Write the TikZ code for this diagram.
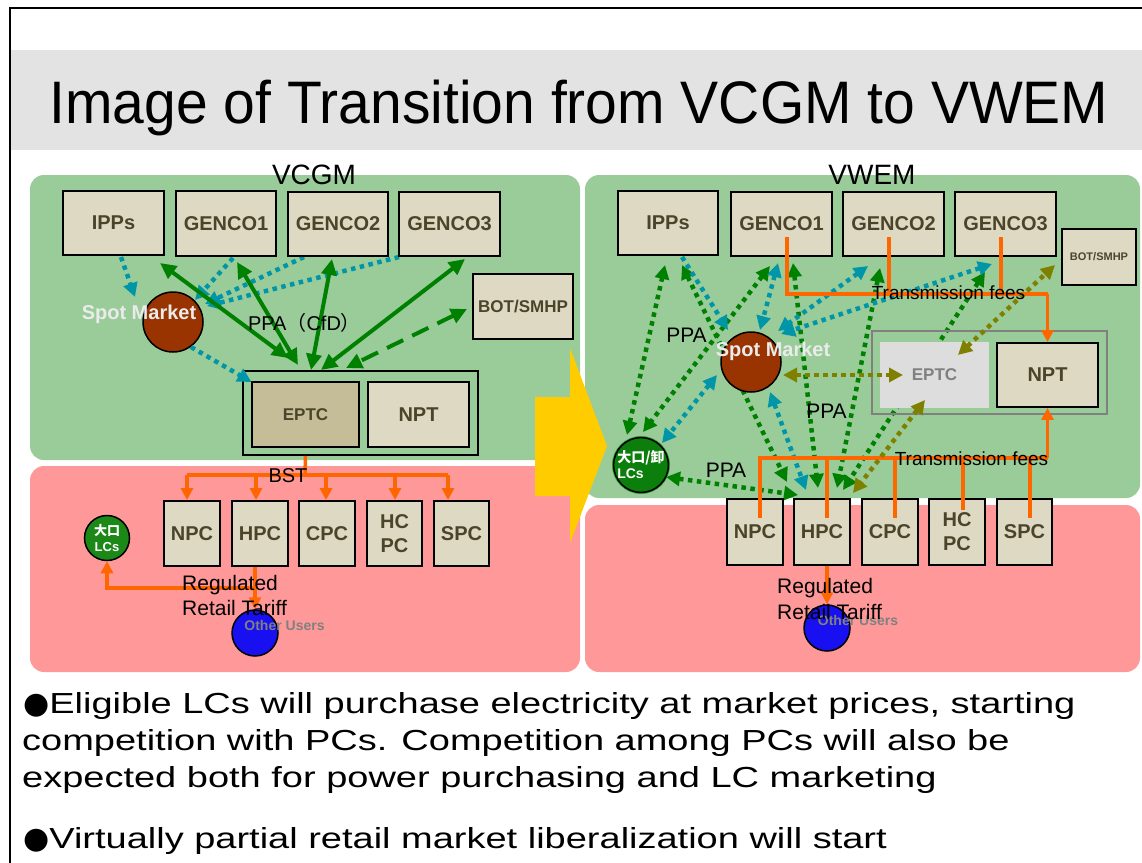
\documentclass[tikz,border=0pt]{standalone}
\usepackage{fontspec}
\setmainfont{Liberation Sans}
\newfontfamily\cjk{Noto Sans CJK JP}
\newfontfamily\dejavu{DejaVu Sans}
\usetikzlibrary{arrows.meta,calc}
\pgfdeclarelayer{bg}
\pgfdeclarelayer{conn}
\pgfdeclarelayer{front}
\pgfsetlayers{bg,conn,main,front}
\definecolor{panelgreen}{RGB}{153,204,153}
\definecolor{panelpink}{RGB}{255,153,153}
\definecolor{boxfill}{RGB}{221,217,195}
\definecolor{boxdark}{RGB}{196,189,151}
\definecolor{boxtext}{RGB}{74,69,42}
\definecolor{titlegray}{RGB}{227,227,227}
\definecolor{spotred}{RGB}{153,51,0}
\definecolor{pptgreen}{RGB}{0,128,0}
\definecolor{pptteal}{RGB}{0,150,168}
\definecolor{pptolive}{RGB}{128,128,0}
\definecolor{pptorange}{RGB}{255,102,0}
\definecolor{pptyellow}{RGB}{255,204,0}
\definecolor{userblue}{RGB}{24,16,240}
\definecolor{lcgreen}{RGB}{28,136,24}
\definecolor{lcdark}{RGB}{12,126,12}
\definecolor{lcring}{RGB}{52,158,52}
\definecolor{eptcgray}{RGB}{221,221,221}
\definecolor{midgray}{RGB}{128,128,128}
\newcommand\fsz[1]{\fontsize{#1}{#1}\selectfont}
\newcommand\blt{{\dejavu\fontsize{30}{30}\selectfont ●}}
\tikzset{
  box/.style={draw=black, line width=1.8pt, fill=boxfill, text=boxtext, font=\bfseries\fsz{20}, inner sep=0pt},
  gsolid/.style={draw=pptgreen, line width=4pt, {Triangle[length=16pt,width=15pt]}-{Triangle[length=16pt,width=15pt]}},
  gdash/.style={draw=pptgreen, line width=4pt, dash pattern=on 18pt off 10pt, {Triangle[length=16pt,width=15pt]}-{Triangle[length=16pt,width=15pt]}},
  dots/.style={line width=4.5pt, dash pattern=on 4.5pt off 4.5pt},
  dtip/.style={-{Triangle[length=14pt,width=14pt]}},
  ddtip/.style={{Triangle[length=14pt,width=14pt]}-{Triangle[length=14pt,width=14pt]}},
  oline/.style={draw=pptorange, line width=3.5pt},
  otip/.style={-{Triangle[length=12pt,width=12pt]}},
  lbl/.style={inner sep=0pt, text=black},
}
\begin{document}
\begin{tikzpicture}[x=1pt,y=-1pt]
\useasboundingbox (0,0) rectangle (1142,862);
\begin{pgfonlayer}{bg}
\fill[white] (0,0) rectangle (1142,862);
\draw[line width=2pt] (10,8) rectangle (1170,890);
\fill[titlegray] (11,50) rectangle (1142,150);
\fill[panelgreen, rounded corners=14pt] (30,175) rectangle (580,460);
\fill[panelpink, rounded corners=14pt] (30,466) rectangle (580,672);
\fill[panelgreen, rounded corners=14pt] (585,175) rectangle (1140,498);
\fill[panelpink, rounded corners=14pt] (585,505) rectangle (1140,672);
\end{pgfonlayer}
\node[anchor=base, inner sep=0pt] (title) at (579,123) {\scalebox{0.95}[1]{\fsz{60}Image of Transition from VCGM to VWEM}};

\node[lbl, anchor=base, font=\fsz{28}] (vcgm) at (314,184) {VCGM};
\node[lbl, anchor=base, font=\fsz{28}] (vwem) at (872,184) {VWEM};

% ===== LEFT (VCGM) =====
\node[box, minimum width=101pt, minimum height=64pt] (IPPsL) at (113.5,223) {IPPs};
\node[box, minimum width=100pt, minimum height=65pt] (GENCO1L) at (226,223.5) {GENCO1};
\node[box, minimum width=100pt, minimum height=64pt] (GENCO2L) at (338,224) {GENCO2};
\node[box, minimum width=101pt, minimum height=64pt] (GENCO3L) at (449.5,224) {GENCO3};
\node[box, minimum width=100pt, minimum height=65pt, font=\bfseries\fsz{17}] (BOTL) at (523,306.5) {BOT/SMHP};
\node[draw=black, line width=2pt, minimum width=235pt, minimum height=84pt, inner sep=0pt] (EPTCouterL) at (360.5,413) {};
\node[box, fill=boxdark, minimum width=107pt, minimum height=65pt, font=\bfseries\fsz{17}] (EPTCL) at (305.5,414.5) {EPTC};
\node[box, minimum width=101pt, minimum height=65pt] (NPTL) at (418.5,414.5) {NPT};
\node[circle, draw=black, line width=1.5pt, fill=spotred, minimum size=60pt, inner sep=0pt] (SpotL) at (173,322) {};
\node[lbl, anchor=base, text=white!92!black, font=\bfseries\fsz{20}] (spotlblL) at (139,319) {Spot Market};
\node[lbl, anchor=base, font=\fsz{20}] (ppacfd) at (304.5,330) {PPA{\cjk （}CfD{\cjk ）}};

\begin{pgfonlayer}{conn}
\draw[dots, draw=pptteal, dtip] ($(IPPsL)+(7.5,34)$) -- ($(SpotL)+(-38,-25)$);
\draw[dots, draw=pptteal, dtip] ($(GENCO1L)+(7,34.5)$) -- ($(SpotL)+(22,-22)$);
\draw[dots, draw=pptteal, dtip] ($(GENCO2L)+(-34,33)$) -- ($(SpotL)+(32,-18)$);
\draw[dots, draw=pptteal, dtip] ($(GENCO3L)+(-50.5,33)$) -- ($(SpotL)+(34,-16)$);
\draw[gsolid] ($(IPPsL)+(46.5,40)$) -- ($(EPTCL)+(-17.5,-56.5)$);
\draw[gsolid] ($(GENCO1L)+(11,38.5)$) -- ($(EPTCL)+(-7.5,-49.5)$);
\draw[gsolid] ($(GENCO2L)+(-6,35)$) -- ($(EPTCL)+(5.5,-44.5)$);
\draw[gsolid] ($(GENCO3L)+(15.5,35)$) -- ($(EPTCL)+(15.5,-44.5)$);
\draw[gdash] ($(BOTL)+(-56,2.5)$) -- ($(EPTCL)+(40.5,-46.5)$);
\end{pgfonlayer}
\begin{pgfonlayer}{front}
\draw[dots, draw=pptteal, dtip] ($(SpotL)+(18,25)$) -- ($(EPTCL)+(-54,-32.5)$);
\end{pgfonlayer}

% PCs left
\node[box, minimum width=56pt, minimum height=65pt] (NPCL) at (192,533.5) {NPC};
\node[box, minimum width=56pt, minimum height=65pt] (HPCL) at (260,533.5) {HPC};
\node[box, minimum width=56pt, minimum height=65pt] (CPCL) at (327,533.5) {CPC};
\node[box, minimum width=55pt, minimum height=65pt, align=center, font=\bfseries\fontsize{20}{24}\selectfont] (HCPCL) at (394.5,533.5) {HC\\PC};
\node[box, minimum width=55pt, minimum height=65pt] (SPCL) at (461.5,533.5) {SPC};

\node[circle, draw=black, line width=1.5pt, fill=lcgreen, minimum size=45pt, inner sep=0pt, text=white, align=center, font=\bfseries\fsz{13}] (LCL) at (107,538) {{\cjk\bfseries 大口}\\[3pt]LCs};
\node[circle, draw=black, line width=1.5pt, fill=userblue, minimum size=46pt, inner sep=0pt] (OtherL) at (255,633) {};

% BST
\coordinate (bstL) at (305,475);
\draw[oline] (EPTCL.south |- EPTCouterL.south) -- (bstL);
\coordinate (dNPC) at ($(NPCL.north)+(-5,0)$);
\coordinate (dHPC) at ($(HPCL.north)+(-4,0)$);
\coordinate (dCPC) at ($(CPCL.north)+(-1,0)$);
\coordinate (dHCPC) at ($(HCPCL.north)+(0.5,0)$);
\coordinate (dSPC) at ($(SPCL.north)+(-13.5,0)$);
\draw[oline] (dNPC |- bstL) -- (dSPC |- bstL);
\foreach \d in {dNPC,dHPC,dCPC,dHCPC,dSPC}{
  \draw[oline, otip] (\d |- bstL) -- (\d);
}
\node[lbl, anchor=base, font=\fsz{20}] (bstlbl) at (288,482) {BST};

% regulated tariff left
\coordinate (tarL) at (255,588);
\draw[oline, otip] (HPCL.south -| OtherL.north) -- (OtherL.north);
\draw[oline, otip] (tarL) -| (LCL.south);
\node[lbl, anchor=base west, font=\fsz{21}] (regL1) at (182,590) {Regulated};
\node[lbl, anchor=base west, font=\fsz{21}] (regL2) at (182,615) {Retail Tariff};
\node[lbl, anchor=base, text=midgray, font=\bfseries\fsz{14}] (othL) at (284.5,630) {Other Users};

% ===== RIGHT (VWEM) =====
\node[box, minimum width=100pt, minimum height=64pt] (IPPsR) at (668,223) {IPPs};
\node[box, minimum width=101pt, minimum height=64pt] (GENCO1R) at (781.5,224) {GENCO1};
\node[box, minimum width=101pt, minimum height=64pt] (GENCO2R) at (893.5,224) {GENCO2};
\node[box, minimum width=101pt, minimum height=64pt] (GENCO3R) at (1005.5,224) {GENCO3};
\node[box, minimum width=74pt, minimum height=56pt, font=\bfseries\fsz{11}] (BOTR) at (1099,257) {BOT/SMHP};
\node[box, minimum width=101pt, minimum height=64pt] (NPTR) at (1047.5,375) {NPT};

\node[box, minimum width=55.5pt, minimum height=66pt] (NPCR) at (755,532) {NPC};
\node[box, minimum width=56pt, minimum height=66pt] (HPCR) at (822,532) {HPC};
\node[box, minimum width=56pt, minimum height=66pt] (CPCR) at (890,532) {CPC};
\node[box, minimum width=55.5pt, minimum height=66pt, align=center, font=\bfseries\fontsize{20}{24}\selectfont] (HCPCR) at (957,532) {HC\\PC};
\node[box, minimum width=55pt, minimum height=66pt] (SPCR) at (1024.5,532) {SPC};

\node[circle, draw=black, line width=1.5pt, fill=spotred, minimum size=60pt, inner sep=0pt] (SpotR) at (751,362) {};
\node[draw=midgray, line width=2pt, minimum width=235pt, minimum height=83pt, inner sep=0pt] (EPTCouterR) at (989.5,372.5) {};
\node[fill=eptcgray, minimum width=109pt, minimum height=66pt, inner sep=0pt, text=midgray, font=\bfseries\fsz{17}] (EPTCR) at (934.5,375) {EPTC};
\node[circle, fill=lcring, minimum size=58pt, inner sep=0pt] (LCRring) at (641,465) {};
\node[circle, draw=black, line width=1.5pt, fill=lcdark, minimum size=47pt, inner sep=0pt, text=white, align=left, font=\bfseries\fsz{14}] (LCR) at (641,465) {{\cjk\bfseries 大口/卸}\\[2pt]LCs};
\node[circle, draw=black, line width=1.5pt, fill=userblue, minimum size=46pt, inner sep=0pt] (OtherR) at (827,628) {};

% transmission fees (orange)
\coordinate (tfT) at (1047.5,294);
\coordinate (g1s) at ($(GENCO1R)+(5.5,13)$);
\coordinate (g2s) at ($(GENCO2R)+(-4.5,13)$);
\coordinate (g3s) at ($(GENCO3R)+(-4.5,13)$);
\draw[oline] (g1s) |- (tfT);
\draw[oline] (g2s) -- (g2s |- tfT);
\draw[oline] (g3s) -- (g3s |- tfT);
\draw[oline, otip] (tfT) -- (NPTR.north);
\coordinate (tfB) at (1047.5,458);
\coordinate (p1s) at ($(NPCR)+(5,-14)$);
\coordinate (p2s) at ($(HPCR)+(5,-14)$);
\coordinate (p3s) at ($(CPCR)+(5,-14)$);
\coordinate (p4s) at ($(HCPCR)+(6,-22)$);
\coordinate (p5s) at ($(SPCR)+(5.5,-14)$);
\draw[oline] (p1s) |- (tfB);
\foreach \p in {p2s,p3s,p4s,p5s}{ \draw[oline] (\p) -- (\p |- tfB); }
\draw[oline, otip] (tfB) -- (NPTR.south);
\draw[oline, otip] (HPCR.south -| OtherR.north) -- (OtherR.north);

\begin{pgfonlayer}{conn}
\draw[dots, draw=pptgreen, ddtip] ($(LCR)+(-14,-30)$) -- ($(IPPsR)+(-3,42)$);
\draw[dots, draw=pptgreen, ddtip] ($(IPPsR)+(14,42)$) -- ($(HPCR)+(-35,-50)$);
\draw[dots, draw=pptgreen, ddtip] ($(GENCO1R)+(-11.5,42)$) -- ($(LCR)+(2,-33)$);
\draw[dots, draw=pptgreen, ddtip] ($(GENCO1R)+(11.5,39)$) -- ($(HPCR)+(-4,-44)$);
\draw[dots, draw=pptgreen, ddtip] ($(GENCO2R)+(-13.5,44)$) -- ($(HPCR)+(15,-44)$);
\draw[dots, draw=pptgreen, ddtip] ($(GENCO3R)+(-20.5,48)$) -- ($(HPCR)+(21,-42)$);
\draw[dots, draw=pptgreen, ddtip] ($(LCR)+(25,12)$) -- ($(HPCR)+(-24,-37)$);
\draw[dots, draw=pptteal, dtip] ($(IPPsR)+(14,34)$) -- ($(SpotR)+(-23,-32)$);
\draw[dots, draw=pptteal, ddtip] ($(GENCO1R)+(-3.5,39)$) -- ($(SpotR)+(9,-32)$);
\draw[dots, draw=pptteal, ddtip] ($(GENCO2R)+(-25.5,42)$) -- ($(SpotR)+(27,-31)$);
\draw[dots, draw=pptteal, ddtip] ($(GENCO3R)+(-13.5,40)$) -- ($(SpotR)+(30,-28)$);
\draw[dots, draw=pptteal, ddtip] ($(SpotR)+(-34,13)$) -- ($(LCR)+(21,-22)$);
\draw[dots, draw=pptteal, ddtip] ($(SpotR)+(19,30)$) -- ($(HPCR)+(-16,-42)$);
\end{pgfonlayer}
\begin{pgfonlayer}{front}
\draw[dots, draw=pptolive, ddtip] ($(SpotR)+(32,13)$) -- ($(EPTCR)+(-31.5,0)$);
\draw[dots, draw=pptolive, ddtip] ($(EPTCR)+(23.5,-20)$) -- ($(BOTR)+(-44,8)$);
\draw[dots, draw=pptolive, ddtip] ($(EPTCR)+(-9.5,25)$) -- ($(HPCR)+(31,-39)$);
\node[lbl, anchor=base, text=white!92!black, font=\bfseries\fsz{20}] (spotlblR) at (773,356) {Spot Market};
\node[lbl, anchor=base, font=\fsz{19}] (tfTl) at (948.5,299) {Transmission fees};
\node[lbl, anchor=base, font=\fsz{19}] (tfBl) at (971.5,465) {Transmission fees};
\end{pgfonlayer}

\node[lbl, anchor=base, font=\fsz{21}] (ppaR1) at (686.5,342) {PPA};
\node[lbl, anchor=base, font=\fsz{21}] (ppaR2) at (826.5,418) {PPA};
\node[lbl, anchor=base, font=\fsz{21}] (ppaR3) at (726,477) {PPA};
\node[lbl, anchor=base, text=midgray, font=\bfseries\fsz{14}] (othR) at (858,625) {Other Users};
\node[lbl, anchor=base west, font=\fsz{21}] (regR1) at (777,593) {Regulated};
\node[lbl, anchor=base west, font=\fsz{21}] (regR2) at (777,619) {Retail Tariff};

% big yellow arrow
\fill[pptyellow] (535,397) -- (570,397) -- (570,348) -- (607,446) -- (570,543) -- (570,496) -- (535,496) -- cycle;

% bullet text
\node[lbl, anchor=base west] (b1) at (23,713) {\blt\scalebox{1.31}[1]{\fsz{29}Eligible LCs will purchase electricity at market prices, starting}};
\node[lbl, anchor=base west] (b2) at (22,750) {\scalebox{1.31}[1]{\fsz{29}competition with PCs. Competition among PCs will also be}};
\node[lbl, anchor=base west] (b3) at (22,787) {\scalebox{1.31}[1]{\fsz{29}expected both for power purchasing and LC marketing}};
\node[lbl, anchor=base west] (b4) at (23,848) {\blt\scalebox{1.31}[1]{\fsz{29}Virtually partial retail market liberalization will start}};
\end{tikzpicture}
\end{document}
